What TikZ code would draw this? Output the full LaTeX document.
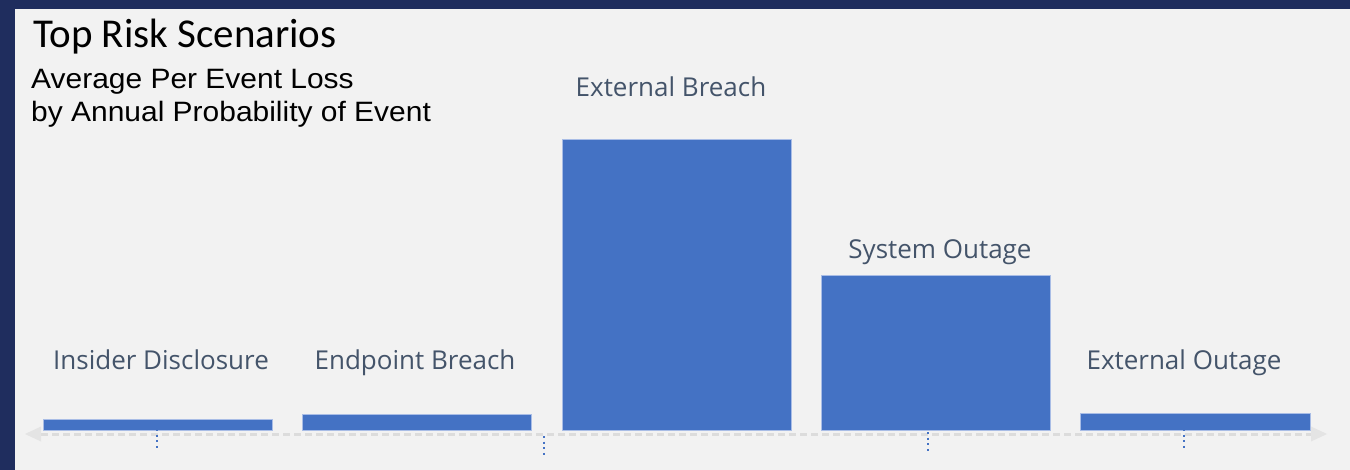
\documentclass[tikz,border=0pt]{standalone}
\usepackage{fontspec}
\setmainfont{Open Sans}
\newfontfamily\titlefont{Carlito}
\newfontfamily\subfont{Liberation Sans}
\usetikzlibrary{arrows.meta}
\definecolor{navy}{HTML}{1F2D5E}
\definecolor{panel}{HTML}{F2F2F2}
\definecolor{barblue}{HTML}{4472C4}
\definecolor{baredge}{HTML}{A9BDE6}
\definecolor{lab}{HTML}{44546A}
\definecolor{axisgray}{HTML}{DCDCDC}
\definecolor{arrowgray}{HTML}{E4E4E4}
\begin{document}
\begin{tikzpicture}[x=1pt,y=-1pt,
  bar/.style={fill=barblue,draw=baredge,line width=0.8pt,inner sep=0pt,outer sep=0pt,anchor=south west,minimum width=229pt},
  lbl/.style={text=lab,font=\fontsize{26}{30}\selectfont,anchor=base,inner sep=0pt},
  subtxt/.style={anchor=base west,inner sep=0pt,xscale=1.07,font=\subfont\fontsize{28}{32}\selectfont},
  tick/.style={barblue,line width=2.4pt,dash pattern=on 2.2pt off 3.4pt},
  axis/.style={axisgray,line width=3pt,dash pattern=on 7pt off 4pt}
]
\useasboundingbox (0,0) rectangle (1350,470);
\fill[navy] (0,0) rectangle (1350,470);
\fill[panel] (15,9) rectangle (1350,470);
% title
\node[anchor=base west,inner sep=0pt,font=\titlefont\fontsize{41}{47}\selectfont] (title) at (33,48) {Top Risk Scenarios};
\node[subtxt] (sub1) at (31,88.5) {Average Per Event Loss};
\node[subtxt] (sub2) at (31,121.5) {by Annual Probability of Event};
% axis
\coordinate (axL) at (25,434);
\coordinate (axR) at (1327,434);
\draw[axis] (41,434) -- (1311,434);
\fill[arrowgray] (axL) -- (41,426.5) -- (41,441.5) -- cycle;
\fill[arrowgray] (axR) -- (1311,426.5) -- (1311,441.5) -- cycle;
% bars
\node[bar,minimum height=11pt] (b1) at (43,430) {};
\node[bar,minimum height=16pt] (b2) at (302,430) {};
\node[bar,minimum height=291pt] (b3) at (562,430) {};
\node[bar,minimum height=155pt] (b4) at (821,430) {};
\node[bar,minimum height=17pt,minimum width=230pt] (b5) at (1080,430) {};
% labels
\node[lbl] (l1) at (161,370) {Insider Disclosure};
\node[lbl] (l2) at (415,370) {Endpoint Breach};
\node[lbl] (l3) at (671,96.5) {External Breach};
\node[lbl] (l4) at (940,259) {System Outage};
\node[lbl] (l5) at (1184,370) {External Outage};
% ticks
\draw[tick] (157,429) -- (157,449);
\draw[tick] (544,436) -- (544,456);
\draw[tick] (928,432) -- (928,452);
\draw[tick] (1184,429) -- (1184,449);
\end{tikzpicture}
\end{document}
